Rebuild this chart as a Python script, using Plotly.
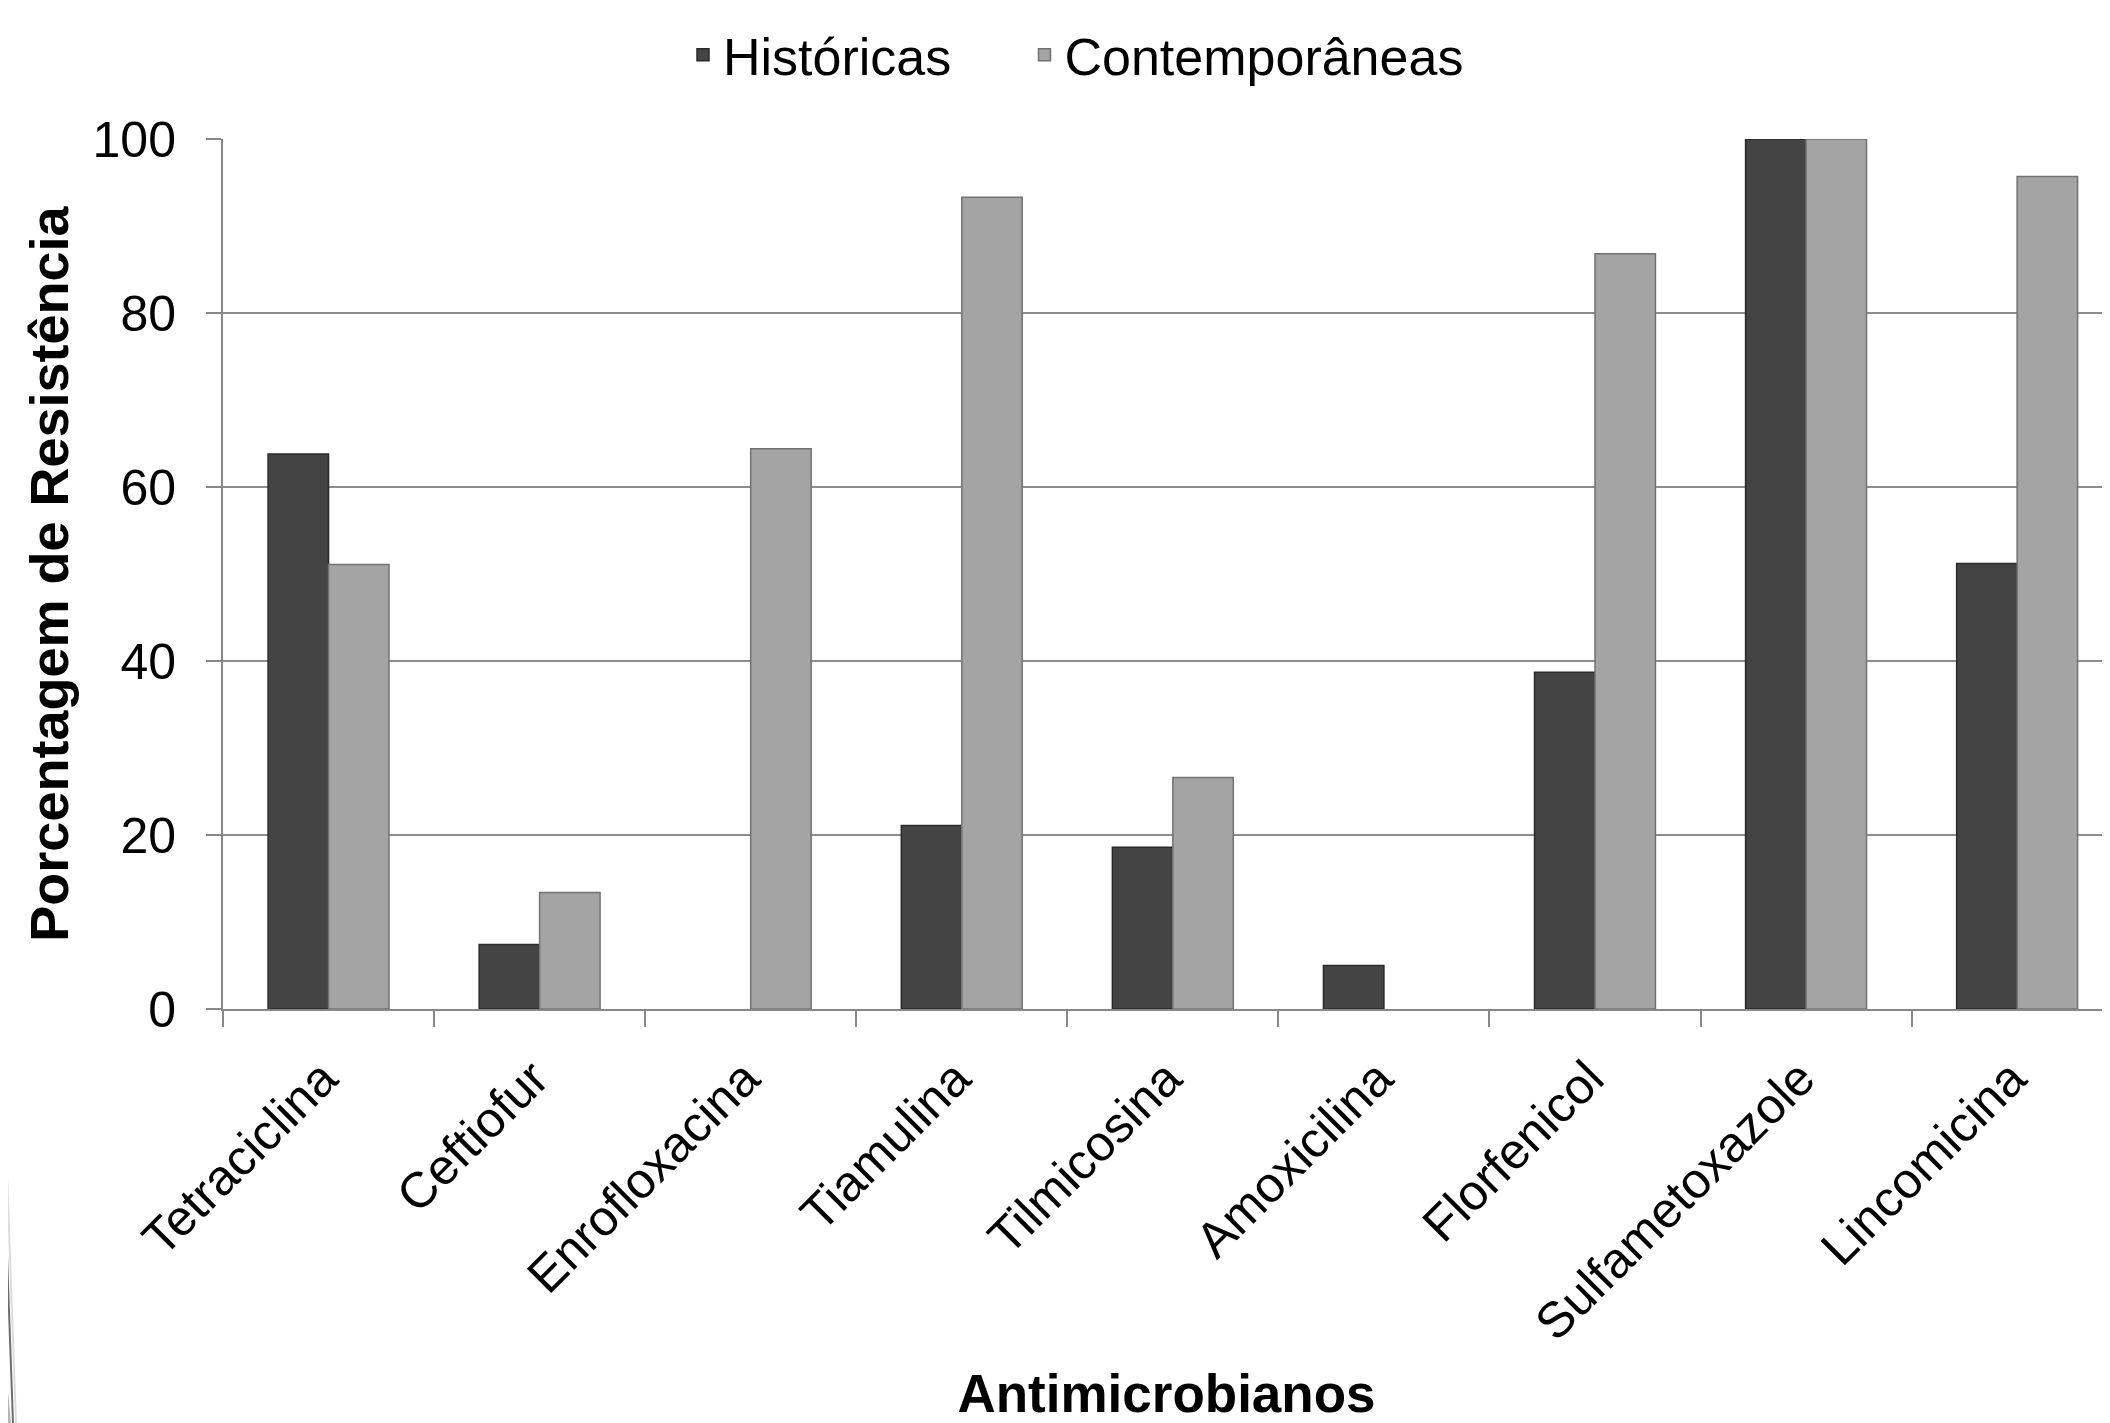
import plotly.graph_objects as go

categories = ["Tetraciclina", "Ceftiofur", "Enrofloxacina", "Tiamulina", "Tilmicosina",
              "Amoxicilina", "Florfenicol", "Sulfametoxazole", "Lincomicina"]
historicas = [63.8, 7.4, 0, 21.1, 18.6, 5.0, 38.7, 100, 51.2]
contemporaneas = [51.1, 13.4, 64.4, 93.3, 26.6, 0, 86.8, 100, 95.7]
y_ticks = [0, 20, 40, 60, 80, 100]
series_names = ["Históricas", "Contemporâneas"]

# page body has an 8px margin, so the figure is 8px smaller than the window
OFF = 8
W, H = 2110 - OFF, 1423 - OFF
ML, MT, MB = 215, 131, 414
FONT = "Liberation Sans, Arial, sans-serif"
NB = "\u00a0"

fig = go.Figure()
fig.add_trace(go.Bar(
    x=categories, y=historicas, name=series_names[0] + NB * 4 + "\u2009",
    marker=dict(color="#444444",
                line=dict(color="#2a2a2a", width=[1.5 if v > 0 else 0 for v in historicas]))))
fig.add_trace(go.Bar(
    x=categories, y=contemporaneas, name=series_names[1],
    marker=dict(color="#a4a4a4",
                line=dict(color="#727272", width=[1.5 if v > 0 else 0 for v in contemporaneas]))))

fig.update_layout(
    width=W, height=H,
    margin=dict(l=ML, r=0, t=MT, b=MB, autoexpand=False),
    paper_bgcolor="white", plot_bgcolor="white",
    font=dict(family=FONT, size=52, color="black"),
    barmode="group", bargap=0.427, bargroupgap=0,
    showlegend=True,
    legend=dict(orientation="h", xref="container", yref="container",
                x=675 / W, xanchor="left", y=1 - (55 - OFF) / H, yanchor="middle",
                font=dict(size=52), itemwidth=30, traceorder="normal"),
)
fig.update_xaxes(
    range=[-0.5, 8.44], showgrid=False, showline=True, linecolor="#888888", linewidth=2,
    ticks="outside", tickson="boundaries", ticklen=16, tickcolor="#888888", tickwidth=2,
    tickangle=-45, tickfont=dict(size=50), ticklabelstandoff=18, ticklabelshift=-6,
    title=dict(text="<b>Antimicrobianos</b>", font=dict(size=53), standoff=42),
    automargin=False,
)
fig.update_yaxes(
    range=[0, 100], tickvals=y_ticks, showgrid=True, gridcolor="#8c8c8c", gridwidth=2,
    showline=True, linecolor="#888888", linewidth=2,
    ticks="outside", ticklen=15, tickcolor="#888888", tickwidth=2,
    tickfont=dict(size=50), ticklabelstandoff=20,
    title=dict(text="<b>Porcentagem de Resistência</b>", font=dict(size=54), standoff=7),
    automargin=False, zeroline=False,
)

# slide decoration at bottom-left edge (viewport pixel coords converted to paper)
def px(xp):
    return (xp - OFF - ML) / (W - ML)

def py(yp):
    return 1 - (yp - OFF - MT) / (H - MT - MB)

fig.add_shape(type="path", xref="paper", yref="paper",
              path=f"M {px(-10)},{py(1200)} L {px(11)},{py(1423)} L {px(-10)},{py(1423)} Z",
              fillcolor="#b4b4b4", line=dict(width=0))
fig.add_shape(type="line", xref="paper", yref="paper",
              x0=px(0), y0=py(1060), x1=px(13), y1=py(1423),
              line=dict(color="#6e6e6e", width=2))
fig.add_shape(type="line", xref="paper", yref="paper",
              x0=px(3), y0=py(1060), x1=px(16), y1=py(1423),
              line=dict(color="#dddddd", width=2))

fig.write_html("out.html")
